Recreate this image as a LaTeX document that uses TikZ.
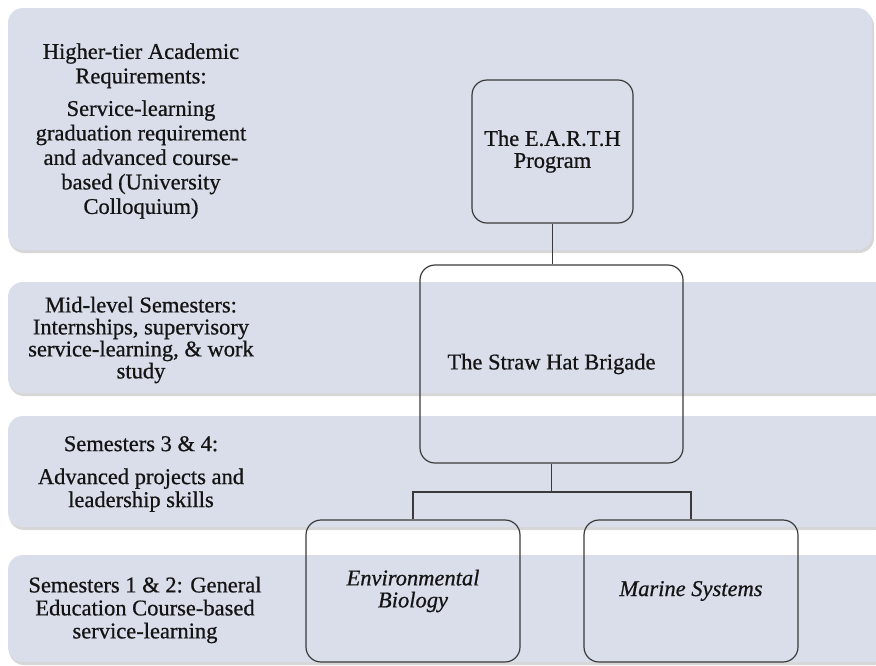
\documentclass[tikz,border=0pt]{standalone}
\usepackage{fontspec}
\setmainfont{Liberation Serif}[FakeBold=0.7]
\definecolor{bandc}{HTML}{D9DEEA}
\definecolor{linec}{HTML}{3A3A3A}
\definecolor{txtc}{HTML}{141414}
\begin{document}
\begin{tikzpicture}[x=1pt,y=-1pt,
  band/.style={fill=bandc, rounded corners=15pt},
  bandshadow/.style={fill=black!45, opacity=0.35, rounded corners=15pt},
  lbl/.style={align=center, text=txtc, font=\fontsize{22.5}{23}\selectfont, inner sep=0pt},
  prog/.style={draw=linec, line width=1.2pt, rounded corners=15pt, align=center, text=txtc,
               font=\fontsize{22.5}{22}\selectfont, inner sep=0pt},
  conn/.style={draw=linec, line width=1.2pt}]
\useasboundingbox (0,0) rectangle (876,665);
% bands with soft shadow
\fill[bandshadow] (9,11) rectangle (874,253);
\fill[band] (8,8) rectangle (872,250);
\fill[bandshadow] (9,285) rectangle (890,396);
\fill[band] (8,282) rectangle (890,393);
\fill[bandshadow] (9,419) rectangle (890,530);
\fill[band] (8,416) rectangle (890,527);
\fill[bandshadow] (9,558) rectangle (890,665);
\fill[band] (8,555) rectangle (890,662);
% band labels
\node[lbl, font=\fontsize{22.5}{24.5}\selectfont] (l1) at (141,131) {Higher-tier Academic\\Requirements:\\[8pt]Service-learning\\graduation requirement\\and advanced course-\\based (University\\Colloquium)};
\node[lbl, font=\fontsize{22.5}{22}\selectfont] (l2) at (141,340) {Mid-level Semesters:\\Internships, supervisory\\service-learning, \& work\\study};
\node[lbl] (l3) at (141,474) {Semesters 3 \& 4:\\[10pt]Advanced projects and\\leadership skills};
\node[lbl] (l4) at (145,610) {Semesters 1 \& 2: General\\Education Course-based\\service-learning};
% program boxes
\node[prog, minimum width=161pt, minimum height=143pt] (earth) at (552.5,151.5) {The E.A.R.T.H\\Program};
\node[prog, minimum width=263pt, minimum height=198pt] (straw) at (551.5,364) {The Straw Hat Brigade};
\node[prog, minimum width=214pt, minimum height=142pt] (env) at (413,591) {\itshape Environmental\\\itshape Biology};
\node[prog, minimum width=214pt, minimum height=142pt] (marine) at (691,591) {\itshape Marine Systems};
% connectors
\coordinate (j) at (551.5,492);
\draw[conn] (earth.south) -- (earth.south |- straw.north);
\draw[conn] (straw.south) -- (j);
\draw[conn] (env.north) |- (j) -| (marine.north);
\end{tikzpicture}
\end{document}
